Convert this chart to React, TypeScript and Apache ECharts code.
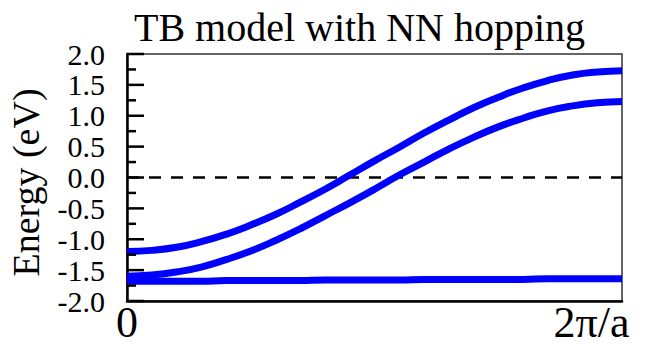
import React, { useEffect, useRef } from "react";
import * as echarts from "echarts";

// Wave vector k across the first zone, in units of 2π/a
const kFrac = [
  0, 0.05, 0.1, 0.15, 0.2, 0.25, 0.3, 0.35, 0.4, 0.45, 0.5,
  0.55, 0.6, 0.65, 0.7, 0.75, 0.8, 0.85, 0.9, 0.95, 1,
];

// Band energies (eV) at each k
const bandUpper = [
  -1.2, -1.18, -1.13, -1.04, -0.92, -0.77, -0.6, -0.4, -0.19, 0.04, 0.27,
  0.49, 0.72, 0.93, 1.13, 1.3, 1.45, 1.57, 1.66, 1.71, 1.73,
];
const bandMiddle = [
  -1.6, -1.58, -1.53, -1.45, -1.33, -1.19, -1.02, -0.83, -0.62, -0.41, -0.19,
  0.04, 0.25, 0.46, 0.65, 0.82, 0.96, 1.08, 1.16, 1.21, 1.23,
];
const bandLower = [
  -1.68, -1.68, -1.68, -1.68, -1.67, -1.67, -1.67, -1.67, -1.66, -1.66, -1.66,
  -1.66, -1.65, -1.65, -1.65, -1.65, -1.65, -1.64, -1.64, -1.64, -1.64,
];

// Energy axis ticks (eV)
const yMajorTicks = [-2, -1.5, -1, -0.5, 0, 0.5, 1, 1.5, 2];
const yMinorTicks = [-1.75, -1.25, -0.75, -0.25, 0.25, 0.75, 1.25, 1.75];

const kTickLabels = ["0", "2π/a"];
const fermiLevel = 0;

const SERIF = "Liberation Serif";
const BAND_COLOR = "#0000ff";

function bandSeries(name: string, values: number[]) {
  return {
    name,
    type: "line",
    data: kFrac.map((k, i) => [k, values[i]]),
    smooth: true,
    showSymbol: false,
    lineStyle: { color: BAND_COLOR, width: 7 },
    z: 3,
  };
}

// Inward ticks on the energy axis, placed through the axis scale
function tickSeries(values: number[], length: number) {
  return {
    type: "custom",
    silent: true,
    clip: false,
    z: 5,
    data: values.map((v) => [0, v]),
    encode: { x: 0, y: 1 },
    renderItem: (_params: any, api: any) => {
      const p = api.coord([api.value(0), api.value(1)]);
      return {
        type: "line",
        shape: { x1: p[0], y1: p[1], x2: p[0] + length, y2: p[1] },
        style: { stroke: "#000", lineWidth: 2.5 },
      };
    },
  };
}

export default function App() {
  const ref = useRef<HTMLDivElement>(null);

  useEffect(() => {
    if (!ref.current) return;
    const chart = echarts.init(ref.current, null, { renderer: "svg" });
    chart.setOption({
      animation: false,
      backgroundColor: "#ffffff",
      textStyle: { fontFamily: SERIF, color: "#000" },
      title: {
        text: "TB model with NN hopping",
        left: 129,
        top: 2,
        textStyle: {
          fontFamily: SERIF,
          fontSize: 40,
          fontWeight: "normal",
          color: "#000",
        },
      },
      grid: {
        left: 127,
        right: 32,
        top: 54,
        bottom: 46,
        show: true,
        borderColor: "#333",
        borderWidth: 1.5,
        containLabel: false,
        outerBoundsMode: "none",
      },
      xAxis: {
        type: "value",
        min: 0,
        max: 1,
        interval: 1,
        axisLine: {
          show: true,
          onZero: false,
          lineStyle: { color: "#000", width: 2.5 },
        },
        axisTick: { show: false },
        splitLine: { show: false },
        axisLabel: {
          margin: 1,
          fontFamily: SERIF,
          fontSize: 44,
          lineHeight: 40,
          color: "#000",
          formatter: (v: number) =>
            v === 0 ? kTickLabels[0] : "{end|" + kTickLabels[1] + "}",
          rich: {
            end: {
              fontFamily: SERIF,
              fontSize: 44,
              lineHeight: 40,
              color: "#000",
              padding: [0, 61, 0, 0],
            },
          },
        },
      },
      yAxis: {
        type: "value",
        min: -2,
        max: 2,
        interval: 0.5,
        name: "Energy (eV)",
        nameLocation: "middle",
        nameGap: 82,
        nameTextStyle: {
          fontFamily: SERIF,
          fontSize: 38,
          color: "#000",
          padding: [0, 10, 0, 0],
        },
        axisLine: {
          show: true,
          onZero: false,
          lineStyle: { color: "#000", width: 2.5 },
        },
        axisTick: { show: false },
        minorTick: { show: false },
        splitLine: { show: false },
        axisLabel: {
          margin: 22,
          fontFamily: SERIF,
          fontSize: 30,
          color: "#000",
          formatter: (v: number) => v.toFixed(1),
        },
      },
      series: [
        bandSeries("band 3", bandLower),
        bandSeries("band 2", bandMiddle),
        {
          ...bandSeries("band 1", bandUpper),
          markLine: {
            silent: true,
            symbol: "none",
            label: { show: false },
            lineStyle: { color: "#000", width: 2.5, type: [12, 10] },
            data: [{ yAxis: fermiLevel }],
            z: 2,
          },
        },
        tickSeries(yMajorTicks, 17),
        tickSeries(yMinorTicks, 9),
      ],
    });
    return () => chart.dispose();
  }, []);

  return (
    <div
      ref={ref}
      style={{ position: "fixed", left: 0, top: 0, width: 654, height: 347 }}
    />
  );
}
